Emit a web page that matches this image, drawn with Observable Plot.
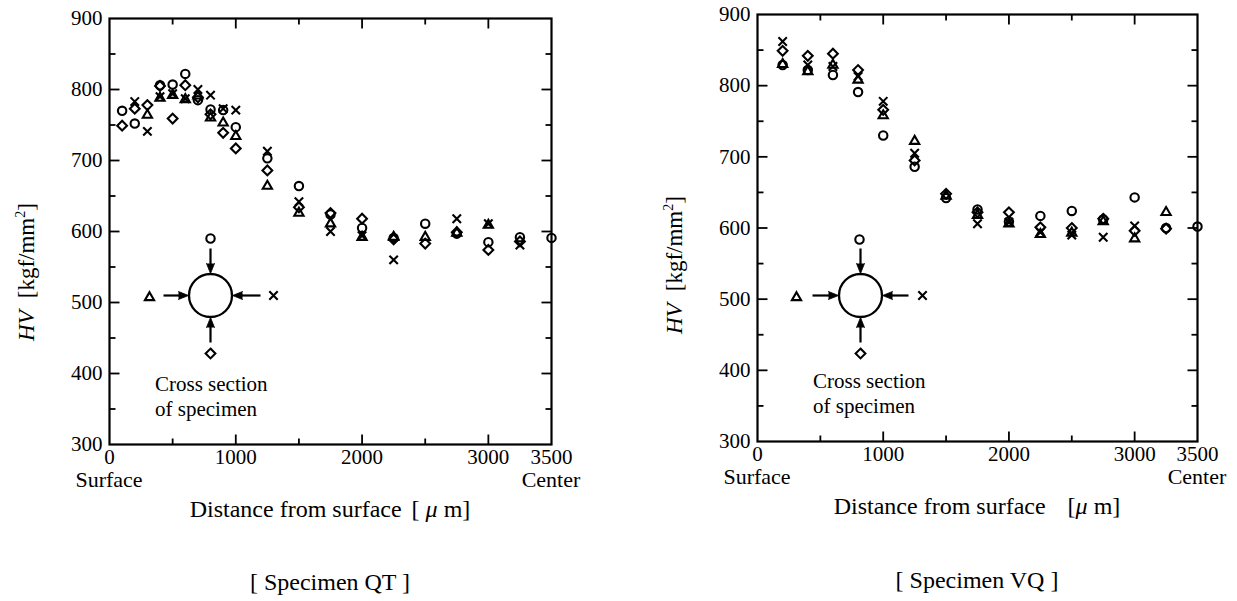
<!DOCTYPE html>
<html><head><meta charset="utf-8">
<script src="https://cdn.jsdelivr.net/npm/d3@7"></script>
<script src="https://cdn.jsdelivr.net/npm/@observablehq/plot@0.6"></script>
<style>
body{margin:0;background:#fff;width:1237px;height:601px;overflow:hidden;position:relative;}
.panel{position:absolute;top:0;}
</style></head><body>
<div id="qt" class="panel" style="left:0"></div>
<div id="vq" class="panel" style="left:620px"></div>
<script>
// ---------------- data ----------------
const qtDepth    = [100,200,300,400,500,600,700,800,900,1000,1250,1500,1750,2000,2250,2500,2750,3000,3250,3500];
const qtCircle   = [770,752,null,806,807,822,785,772,771,747,703,664,624,605,591,611,597,585,592,591];
const qtTriangle = [null,null,764,788,792,786,791,760,753,734,664,626,611,592,592,592,598,609,null,null];
const qtTimes    = [null,783,741,790,794,787,800,792,773,771,713,642,600,594,560,null,618,611,581,null];
const qtDiamond  = [749,773,778,805,759,806,789,765,739,717,686,634,626,618,589,583,599,574,586,null];

const vqDepth    = [200,400,600,800,1000,1250,1500,1750,2000,2250,2500,2750,3000,3250,3500];
const vqCircle   = [829,822,815,791,730,686,642,626,609,617,624,612,643,600,602];
const vqTriangle = [830,820,829,808,758,722,645,618,606,591,593,609,585,622,null];
const vqTimes    = [862,829,827,813,778,705,null,606,608,594,590,587,603,null,null];
const vqDiamond  = [849,842,845,822,766,695,648,622,622,601,600,613,596,599,null];

const yTickLabels = [300,400,500,600,700,800,900];
const xTickLabels = [0,1000,2000,3000,3500];
const yMajorTicks = [400,500,600,700,800];
const yMinorTicks = [350,450,550,650,750,850];
const xMajorTicks = [1000,2000,3000];
const xMinorTicks = [500,1500,2500];

// ---------------- drawing ----------------
const FONT = '"Liberation Serif","Times New Roman",serif';
const SYM = {circle:["circle",4.2], triangle:["triangle2",4.4], times:["times",3.9], diamond:["diamond2",4.4]};
const MSW = 2.1;

function rows(depth, vals){ return depth.map((d,i)=>({d, hv: vals[i]})).filter(r=>r.hv!=null); }

function makePanel(cfg){
  const plotW = cfg.width - cfg.ml - cfg.mr;
  const plotH = cfg.height - cfg.mt - cfg.mb;
  const ux = 3500/plotW, uy = 600/plotH;
  const cx = (cfg.inset.px - cfg.ml)*ux, cy = 900 - (cfg.inset.py - cfg.mt)*uy;
  const P = (dx,dy)=>({x: cx + dx*ux, y: cy - dy*uy});
  const L = cfg.inset;

  const seriesMarks = Object.entries(cfg.series).map(([k,vals])=>
    Plot.dot(rows(cfg.depth, vals), {x:"d", y:"hv", symbol: SYM[k][0], r: SYM[k][1],
      stroke:"black", fill:"none", strokeWidth:MSW}));

  const tickOpts = {stroke:"black", strokeWidth:1.8, strokeLinecap:"butt", r:0, anchor:"start"};
  const shafts = [
    [P(0,-47),P(0,-30)], [P(0,47),P(0,30)],
    [P(L.left,0),P(-30,0)], [P(L.right,0),P(30,0)]
  ];
  const heads = [
    {...P(0,-22), rot:180}, {...P(0,22), rot:0},
    {...P(-22,0), rot:90}, {...P(22,0), rot:270}
  ];
  const insetSym = [
    ["circle", P(L.top[0], L.top[1])],
    ["triangle", P(L.tri[0], L.tri[1])],
    ["times", P(L.tim[0], L.tim[1])],
    ["diamond", P(L.dia[0], L.dia[1])]
  ];

  const plot = Plot.plot({
    width: cfg.width, height: cfg.height,
    marginLeft: cfg.ml, marginRight: cfg.mr, marginTop: cfg.mt, marginBottom: cfg.mb,
    x: {domain:[0,3500], axis:null},
    y: {domain:[300,900], axis:null},
    style: {background:"white", overflow:"visible", fontFamily: FONT},
    marks: [
      Plot.frame({stroke:"black", strokeWidth:2.2}),
      Plot.vector(yMajorTicks, {...tickOpts, x:0, y:d=>d, rotate:90, length:10}),
      Plot.vector(yMinorTicks, {...tickOpts, x:0, y:d=>d, rotate:90, length:6}),
      Plot.vector(yMajorTicks, {...tickOpts, x:3500, y:d=>d, rotate:270, length:10}),
      Plot.vector(yMinorTicks, {...tickOpts, x:3500, y:d=>d, rotate:270, length:6}),
      Plot.vector(xMajorTicks, {...tickOpts, x:d=>d, y:300, rotate:0, length:10}),
      Plot.vector(xMinorTicks, {...tickOpts, x:d=>d, y:300, rotate:0, length:6}),
      Plot.vector(xMajorTicks, {...tickOpts, x:d=>d, y:900, rotate:180, length:10}),
      Plot.vector(xMinorTicks, {...tickOpts, x:d=>d, y:900, rotate:180, length:6}),
      Plot.text(yTickLabels, {x:0, y:d=>d, text:d=>String(d), textAnchor:"end", dx:-7, fontSize:21, fontFamily:FONT, fill:"black"}),
      Plot.text(xTickLabels, {x:d=>d, y:300, text:d=>String(d), lineAnchor:"top", dy:5, fontSize:21, fontFamily:FONT, fill:"black"}),
      ...seriesMarks,
      // inset: cross section of specimen
      Plot.dot([P(0,0)], {x:"x", y:"y", r:21.5, stroke:"black", fill:"none", strokeWidth:2.3}),
      Plot.link(shafts, {x1:d=>d[0].x, y1:d=>d[0].y, x2:d=>d[1].x, y2:d=>d[1].y, stroke:"black", strokeWidth:2.2}),
      Plot.vector(heads, {x:"x", y:"y", rotate:"rot", length:10, anchor:"end", shape:"spike", r:4, fill:"black", stroke:"black", strokeWidth:0.8}),
      ...insetSym.map(([k,p])=>Plot.dot([p], {x:"x", y:"y", symbol:SYM[k][0], r:SYM[k][1], stroke:"black", fill:"none", strokeWidth:MSW}))
    ]
  });

  const svg = d3.select(plot);
  const sx = plot.scale("x"), sy = plot.scale("y");
  const bottom = sy.apply(300);
  const mid = (sx.apply(0)+sx.apply(3500))/2;
  const T = (x,y,size,anchor)=>svg.append("text").attr("x",x).attr("y",y).attr("font-size",size)
      .attr("font-family",FONT).attr("fill","black").attr("text-anchor",anchor);

  T(sx.apply(0), bottom+43, 22, "middle").text("Surface");
  T(sx.apply(3500), bottom+43, 22, "middle").text("Center");

  const xt = T(mid, bottom+73, 24, "middle");
  xt.append("tspan").text("Distance from surface");
  xt.append("tspan").attr("dx", cfg.xGap).text(cfg.bracketOpen);
  xt.append("tspan").attr("font-style","italic").text("μ");
  xt.append("tspan").text("\u00a0m]");

  const yt = svg.append("text").attr("transform",`translate(${cfg.yLab[0]},${cfg.yLab[1]}) rotate(-90)`)
     .attr("text-anchor","middle").attr("dy","0.35em").attr("font-size",23).attr("font-family",FONT).attr("fill","black");
  yt.append("tspan").attr("font-style","italic").text("HV");
  yt.append("tspan").attr("dx",12).text("[kgf/mm");
  yt.append("tspan").attr("font-size",14).attr("dy",-9).text("2");
  yt.append("tspan").attr("dy",9).text("]");

  const ix = sx.apply(cx), iy = sy.apply(cy);
  T(ix + L.textX, iy + L.text1, 21, "start").text("Cross section");
  T(ix + L.textX, iy + L.text2, 21, "start").text("of specimen");

  T(mid, cfg.titleY, 24, "middle").text(cfg.title);

  document.getElementById(cfg.el).appendChild(plot);
}

makePanel({
  el:"qt", width:620, height:601, ml:109, mr:69, mt:18, mb:157,
  depth: qtDepth,
  series: {circle:qtCircle, triangle:qtTriangle, times:qtTimes, diamond:qtDiamond},
  inset: {px:210, py:295, left:-47, right:50, top:[0,-57], tri:[-61,2], tim:[63,0], dia:[0,58], textX:-55, text1:96, text2:121},
  xGap: 10, bracketOpen: "[\u00a0",
  yLab: [26, 272], titleY: 590, title: "[ Specimen QT ]"
});
makePanel({
  el:"vq", width:617, height:601, ml:137, mr:40, mt:14, mb:160,
  depth: vqDepth,
  series: {circle:vqCircle, triangle:vqTriangle, times:vqTimes, diamond:vqDiamond},
  inset: {px:240, py:295, left:-48, right:48, top:[-1,-56], tri:[-64,2], tim:[62,0], dia:[0,58], textX:-47, text1:93, text2:118},
  xGap: 22, bracketOpen: "[",
  yLab: [54, 265], titleY: 588, title: "[ Specimen VQ ]"
});
</script>
</body></html>
